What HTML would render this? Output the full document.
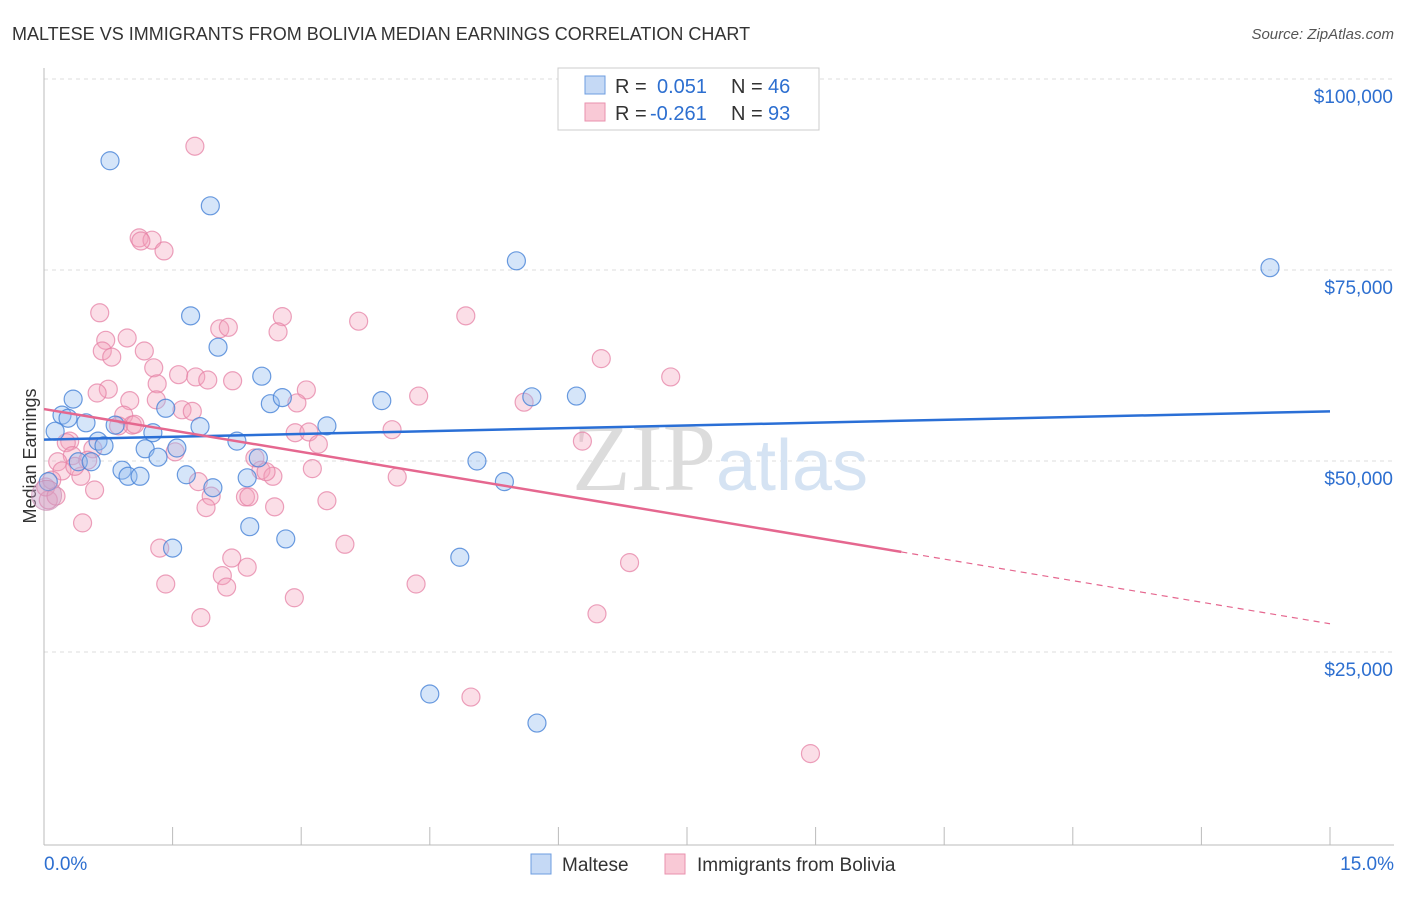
<!DOCTYPE html>
<html><head><meta charset="utf-8"><style>
body{margin:0;background:#fff;font-family:"Liberation Sans",sans-serif}
svg text{font-family:"Liberation Sans",sans-serif}
</style></head><body>
<svg id="c" width="1406" height="892" viewBox="0 0 1406 892">
<text x="12" y="40" font-size="18" fill="#333">MALTESE VS IMMIGRANTS FROM BOLIVIA MEDIAN EARNINGS CORRELATION CHART</text>
<text x="1394" y="39" font-size="15" fill="#555" font-style="italic" text-anchor="end">Source: ZipAtlas.com</text>
<text x="36" y="456" font-size="18" fill="#333" text-anchor="middle" transform="rotate(-90 36 456)">Median Earnings</text>
<g id="grid"></g>
<text x="720" y="490" font-size="96" fill="#e4e4e4" text-anchor="middle" font-family="Liberation Serif"><tspan fill="#dcdcdc" font-family="Liberation Serif">ZIP</tspan><tspan fill="#d5e3f3" font-size="72" font-family="Liberation Sans">atlas</tspan></text>
<g id="pts"></g>
<g id="lines"></g>
<g>
<rect x="558" y="68" width="261" height="62" fill="#fff" stroke="#ccc"/>
<rect x="585" y="76" width="20" height="18" fill="#c5d9f5" stroke="#6d9de0"/>
<rect x="585" y="103" width="20" height="18" fill="#f9c9d6" stroke="#e991ae"/>
<text x="615" y="93" font-size="20" fill="#333">R = </text><text x="657" y="93" font-size="20" fill="#2d6fd0">0.051</text>
<text x="731" y="93" font-size="20" fill="#333">N = </text><text x="768" y="93" font-size="20" fill="#2d6fd0">46</text>
<text x="615" y="120" font-size="20" fill="#333">R = </text><text x="650" y="120" font-size="20" fill="#2d6fd0">-0.261</text>
<text x="731" y="120" font-size="20" fill="#333">N = </text><text x="768" y="120" font-size="20" fill="#2d6fd0">93</text>
</g>
<g>
<rect x="531" y="854" width="20" height="20" fill="#c5d9f5" stroke="#6d9de0"/>
<text x="562" y="871" font-size="19" fill="#333">Maltese</text>
<rect x="665" y="854" width="20" height="20" fill="#f9c9d6" stroke="#e991ae"/>
<text x="697" y="871" font-size="19" fill="#333">Immigrants from Bolivia</text>
</g>
<text x="44" y="870" font-size="19" fill="#2d6fd0">0.0%</text>
<text x="1394" y="870" font-size="19" fill="#2d6fd0" text-anchor="end">15.0%</text>
</svg>
<script>
const yTicks=[25000,50000,75000,100000];
const yTickLabels=["$25,000","$50,000","$75,000","$100,000"];
const xTicks=[0,1.5,3,4.5,6,7.5,9,10.5,12,13.5,15];
const malteseX=[0.77,1.94,5.51,14.30,1.71,2.03,2.54,2.64,2.78,3.94,5.69,6.21,0.34,0.21,0.28,0.49,0.83,1.27,1.42,1.82,2.25,0.63,0.70,0.13,0.40,0.55,0.91,0.98,1.12,1.18,1.33,1.55,1.66,2.37,2.50,3.30,5.05,5.37,1.97,2.40,2.82,1.50,4.85,4.50,5.75,0.05];
const malteseY=[89.3,83.4,76.2,75.3,69.0,64.9,61.1,57.5,58.3,57.9,58.4,58.5,58.1,56.0,55.6,55.0,54.7,53.7,56.9,54.5,52.6,52.6,52.0,53.9,49.9,49.9,48.8,48.0,48.0,51.6,50.5,51.7,48.2,47.8,50.4,54.6,50.0,47.3,46.5,41.4,39.8,38.6,37.4,19.5,15.7,47.3];
const boliviaX=[1.76,1.11,1.26,1.13,1.40,0.65,2.78,2.05,2.15,2.73,3.67,4.92,0.72,0.97,1.17,0.68,0.79,6.50,1.28,1.57,1.77,1.91,2.20,7.31,1.32,0.75,0.62,3.06,4.37,2.95,1.31,1.00,5.60,1.61,1.73,0.93,1.03,0.87,1.06,4.06,2.93,3.09,0.30,0.26,3.20,6.28,0.57,1.53,2.46,0.33,0.16,0.51,2.53,3.13,0.43,2.67,4.12,0.21,1.80,0.59,2.59,1.95,2.35,2.39,3.30,1.89,2.69,0.45,3.51,1.35,6.83,2.19,2.37,2.08,1.42,2.13,4.34,2.92,6.45,1.83,4.98,8.94,0.05,0.02,0.09,0.36,0.14];
const boliviaY=[91.2,79.2,78.9,78.8,77.5,69.4,68.9,67.3,67.5,66.9,68.3,69.0,65.8,66.1,64.4,64.4,63.6,63.4,62.2,61.3,61.0,60.6,60.5,61.0,60.1,59.4,58.9,59.3,58.5,57.6,58.0,57.9,57.7,56.7,56.5,56.0,54.7,54.6,54.8,54.1,53.7,53.8,52.6,52.4,52.2,52.6,51.6,51.2,50.4,50.7,49.9,50.1,48.8,49.0,48.0,48.0,47.9,48.7,47.3,46.2,48.6,45.4,45.3,45.3,44.8,43.9,44.0,41.9,39.1,38.6,36.7,37.3,36.1,35.0,33.9,33.5,33.9,32.1,30.0,29.5,19.1,11.7,44.9,46.6,47.5,49.3,45.4];
const malteseTrend=[[0,52.8],[15,56.5]];
const boliviaTrend=[[0,56.8],[10,38.1],[15,28.7]];
const X0=44,X1=1330,Y0=843,PXK=191/25;
const sx=v=>X0+(v/15)*(X1-X0);
const sy=k=>Y0-k*PXK;
const NS="http://www.w3.org/2000/svg";
function mk(t,a,p){const e=document.createElementNS(NS,t);for(const k in a)e.setAttribute(k,a[k]);p.appendChild(e);return e;}
const grid=document.getElementById('grid');
yTicks.forEach((t,i)=>{
 const y=sy(t/1000);
 const l=mk('line',{x1:44,x2:1394,y1:y,y2:y,stroke:'#ddd','stroke-dasharray':'4,4'},grid);
 
 
 const tx=mk('text',{x:1393,y:y+24,'font-size':19,fill:'#2d6fd0','text-anchor':'end'},grid);
 tx.textContent=yTickLabels[i];
 
 
});
const ax=mk('line',{x1:44,x2:44,y1:68,y2:845,stroke:'#bbb'},grid);


const bx=mk('line',{x1:44,x2:1394,y1:845,y2:845,stroke:'#bbb'},grid);


xTicks.forEach(t=>{
 const l=mk('line',{x1:sx(t),x2:sx(t),y1:827,y2:845,stroke:'#bbb'},grid);
 
 
});
const pts=document.getElementById('pts');
boliviaX.forEach((x,i)=>{
 const c=mk('circle',{cx:sx(x),cy:sy(boliviaY[i]),r:9,fill:'rgba(243,160,187,0.35)',stroke:'rgba(230,130,165,0.75)','stroke-width':1.2},pts);
 
 
});
malteseX.forEach((x,i)=>{
 const c=mk('circle',{cx:sx(x),cy:sy(malteseY[i]),r:9,fill:'rgba(150,190,240,0.4)',stroke:'rgba(70,130,215,0.8)','stroke-width':1.2},pts);
 
 
});
const big=mk('circle',{cx:sx(0.03),cy:sy(45.5),r:15,fill:'rgba(200,160,200,0.45)',stroke:'rgba(200,130,170,0.6)'},pts);


const lines=document.getElementById('lines');
const bl=mk('line',{x1:sx(malteseTrend[0][0]),y1:sy(malteseTrend[0][1]),x2:sx(malteseTrend[1][0]),y2:sy(malteseTrend[1][1]),stroke:'#2a6fd6','stroke-width':2.5},lines);


const pl=mk('line',{x1:sx(boliviaTrend[0][0]),y1:sy(boliviaTrend[0][1]),x2:sx(boliviaTrend[1][0]),y2:sy(boliviaTrend[1][1]),stroke:'#e5678f','stroke-width':2.5},lines);


const pd=mk('line',{x1:sx(boliviaTrend[1][0]),y1:sy(boliviaTrend[1][1]),x2:sx(boliviaTrend[2][0]),y2:sy(boliviaTrend[2][1]),stroke:'#e5678f','stroke-width':1.2,'stroke-dasharray':'6,5'},lines);


</script>
</body></html>
